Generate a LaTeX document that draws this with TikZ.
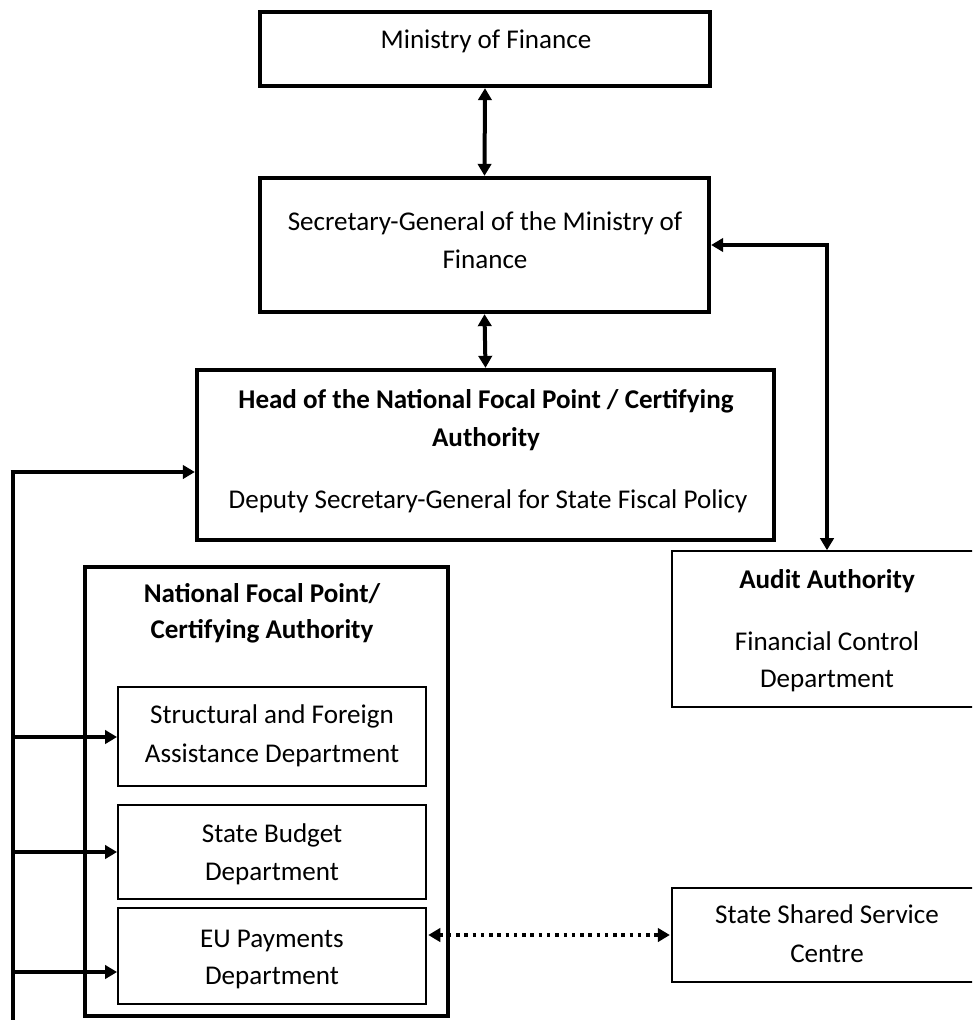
\documentclass[tikz,border=0pt]{standalone}
\usepackage{fontspec}
\setmainfont{Carlito}
\usetikzlibrary{arrows.meta}
\begin{document}
\begin{tikzpicture}[x=0.75pt,y=-0.75pt,
  thickbox/.style={draw,line width=3.2pt,inner sep=0pt,rectangle},
  thinbox/.style={draw,line width=1.4pt,inner sep=0pt,rectangle},
  txt/.style={anchor=base,inner sep=0pt,font=\fontsize{20.3}{24}\selectfont},
  btxt/.style={txt,font=\fontsize{20.3}{24}\selectfont\bfseries},
  conn/.style={line width=3pt,-{Triangle[length=9pt,width=10pt]}},
  dconn/.style={line width=3pt,{Triangle[length=9pt,width=10pt]}-{Triangle[length=9pt,width=10pt]}},
  dotconn/.style={line width=2.6pt,dash pattern=on 2.6pt off 3.6pt,{Triangle[length=9pt,width=10pt]}-{Triangle[length=9pt,width=10pt]},shorten <=1pt,shorten >=1pt}
]
\useasboundingbox (0,0) rectangle (972,1020);
\clip (0,0) rectangle (972,1020);
% boxes
\node[thickbox,minimum width=337.5pt,minimum height=55.5pt] (min) at (485,49) {};
\node[thickbox,minimum width=336.75pt,minimum height=100.5pt] (sec) at (484.5,245) {};
\node[thickbox,minimum width=432.75pt,minimum height=127.5pt] (head) at (485.5,455) {};
\node[thickbox,minimum width=272.25pt,minimum height=336.75pt] (nfp) at (266.5,791.5) {};
\node[thinbox,minimum width=231pt,minimum height=74.25pt] (sfa) at (272,736.5) {};
\node[thinbox,minimum width=231pt,minimum height=70.5pt] (sbd) at (272,852) {};
\node[thinbox,minimum width=231pt,minimum height=72pt] (eup) at (272,956) {};
\node[thinbox,line width=1.2pt,minimum width=232.5pt,minimum height=117pt] (aud) at (827,629) {};
\node[thinbox,line width=1.2pt,minimum width=232.5pt,minimum height=70.5pt] (sss) at (827,935) {};
% texts
\node[txt] (t1) at (486,49) {Ministry of Finance};
\node[txt] (t2) at (485,230) {Secretary-General of the Ministry of};
\node[txt] (t3) at (485,268) {Finance};
\node[btxt] (t4) at (486,408) {Head of the National Focal Point / Certifying};
\node[btxt] (t5) at (486,446) {Authority};
\node[txt] (t6) at (488,508) {Deputy Secretary-General for State Fiscal Policy};
\node[btxt] (t7) at (262,602) {National Focal Point/};
\node[btxt] (t8) at (262,638) {Certifying Authority};
\node[txt] (t9) at (272,723) {Structural and Foreign};
\node[txt] (t10) at (272,762) {Assistance Department};
\node[txt] (t11) at (272,842) {State Budget};
\node[txt] (t12) at (272,880) {Department};
\node[txt] (t13) at (272,947) {EU Payments};
\node[txt] (t14) at (272,984) {Department};
\node[btxt] (t15) at (827,588) {Audit Authority};
\node[txt] (t16) at (827,650) {Financial Control};
\node[txt] (t17) at (827,687) {Department};
\node[txt] (t18) at (827,923) {State Shared Service};
\node[txt] (t19) at (827,962) {Centre};
% connectors
\draw[dconn] (min.south) -- (sec.north);
\draw[dconn] (sec.south) -- (head.north);
\draw[dconn] (sec.east) -| (aud.north);
\coordinate (lt) at (13,472);
\coordinate (lb) at (13,1030);
\coordinate (l1) at (13,737);
\coordinate (l2) at (13,852);
\coordinate (l3) at (13,972);
\draw[line width=3.4pt] (lb) -- (lt);
\draw[conn] ([xshift=-1.7pt]lt) -- (lt -| head.west);
\draw[conn] (l1) -- (l1 -| sfa.west);
\draw[conn] (l2) -- (l2 -| sbd.west);
\draw[conn] (l3) -- (l3 -| eup.west);
\draw[dotconn] (eup.east |- sss.west) -- (sss.west);
\end{tikzpicture}
\end{document}
